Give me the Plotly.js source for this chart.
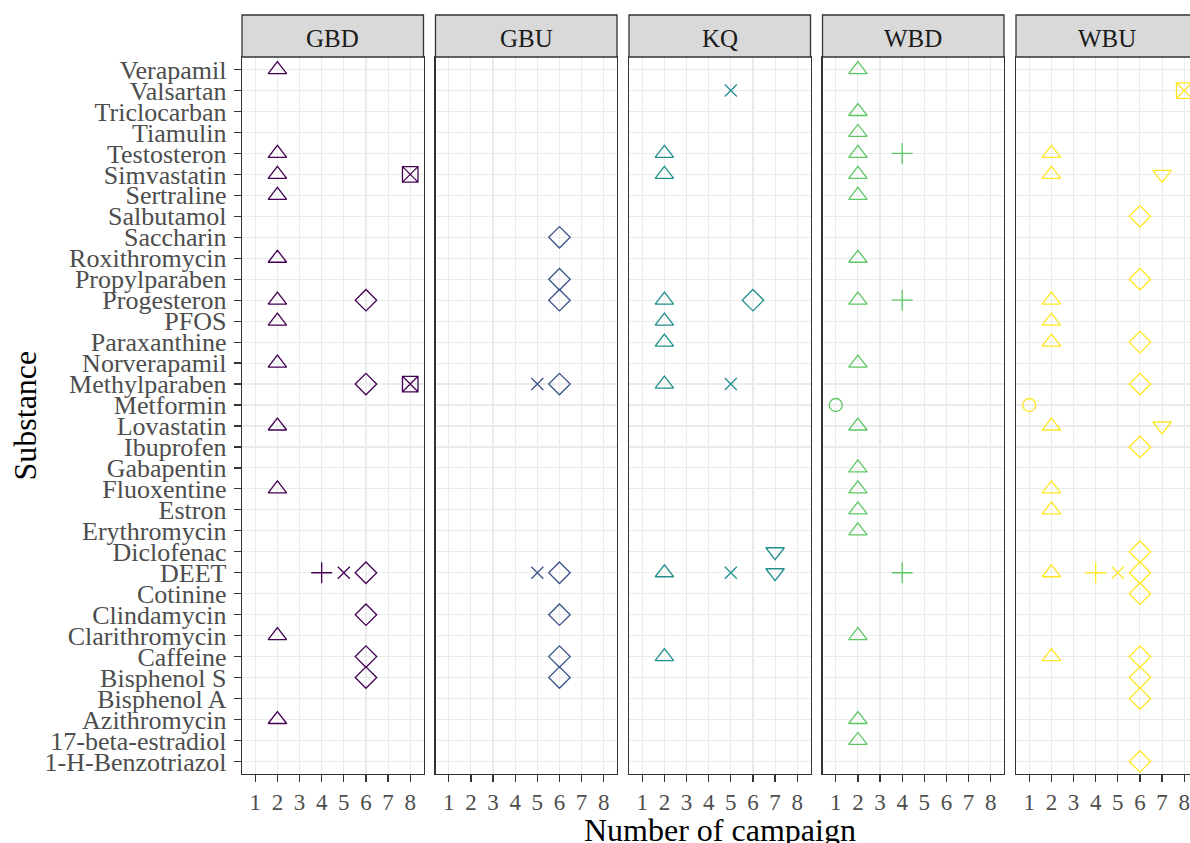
<!DOCTYPE html>
<html>
<head>
<meta charset="utf-8">
<script src="https://cdn.plot.ly/plotly-3.0.1.min.js"></script>
<style>
html, body { margin: 0; padding: 0; overflow: hidden; background: #ffffff; }
#chart { width: 1200px; height: 843px; }
</style>
</head>
<body>
<div id="chart"></div>
<script>
// Substances, top to bottom as shown
const substances = ["Verapamil","Valsartan","Triclocarban","Tiamulin","Testosteron","Simvastatin","Sertraline","Salbutamol","Saccharin","Roxithromycin","Propylparaben","Progesteron","PFOS","Paraxanthine","Norverapamil","Methylparaben","Metformin","Lovastatin","Ibuprofen","Gabapentin","Fluoxentine","Estron","Erythromycin","Diclofenac","DEET","Cotinine","Clindamycin","Clarithromycin","Caffeine","Bisphenol S","Bisphenol A","Azithromycin","17-beta-estradiol","1-H-Benzotriazol"];
const campaignTicks = [1,2,3,4,5,6,7,8];
const panels = ["GBD","GBU","KQ","WBD","WBU"];
const panelColors = ["#440154","#3B528B","#21908C","#5DC863","#FDE725"];

// Detections: substance and campaign, per site
const GBD_substance = ["Verapamil","Testosteron","Simvastatin","Simvastatin","Sertraline","Roxithromycin","Progesteron","Progesteron","PFOS","Norverapamil","Methylparaben","Methylparaben","Lovastatin","Fluoxentine","DEET","DEET","DEET","Clindamycin","Clarithromycin","Caffeine","Bisphenol S","Azithromycin"];
const GBD_campaign  = [2,2,2,8,2,2,2,6,2,2,6,8,2,2,4,5,6,6,2,6,6,2];

const GBU_substance = ["Saccharin","Propylparaben","Progesteron","Methylparaben","Methylparaben","DEET","DEET","Clindamycin","Caffeine","Bisphenol S"];
const GBU_campaign  = [6,6,6,5,6,5,6,6,6,6];

const KQ_substance = ["Valsartan","Testosteron","Simvastatin","Progesteron","Progesteron","PFOS","Paraxanthine","Methylparaben","Methylparaben","Diclofenac","DEET","DEET","DEET","Caffeine"];
const KQ_campaign  = [5,2,2,2,6,2,2,2,5,7,2,5,7,2];

const WBD_substance = ["Verapamil","Triclocarban","Tiamulin","Testosteron","Testosteron","Simvastatin","Sertraline","Roxithromycin","Progesteron","Progesteron","Norverapamil","Metformin","Lovastatin","Gabapentin","Fluoxentine","Estron","Erythromycin","DEET","Clarithromycin","Azithromycin","17-beta-estradiol"];
const WBD_campaign  = [2,2,2,2,4,2,2,2,2,4,2,1,2,2,2,2,2,4,2,2,2];

const WBU_substance = ["Valsartan","Testosteron","Simvastatin","Simvastatin","Salbutamol","Propylparaben","Progesteron","PFOS","Paraxanthine","Paraxanthine","Methylparaben","Metformin","Lovastatin","Lovastatin","Ibuprofen","Fluoxentine","Estron","Diclofenac","DEET","DEET","DEET","DEET","Cotinine","Caffeine","Caffeine","Bisphenol S","Bisphenol A","1-H-Benzotriazol"];
const WBU_campaign  = [8,2,2,7,6,6,2,2,2,6,6,1,2,7,6,2,2,6,2,4,5,6,6,2,6,6,6,6];

const panelData = [
  [GBD_substance, GBD_campaign],
  [GBU_substance, GBU_campaign],
  [KQ_substance, KQ_campaign],
  [WBD_substance, WBD_campaign],
  [WBU_substance, WBU_campaign]
];

// Shape per campaign (styling)
const symbolFor = {1:"circle-open",2:"triangle-up-open",3:"cross-thin-open",4:"cross-thin-open",5:"x-thin-open",6:"diamond-open",7:"triangle-down-open",8:"square-x-open"};
const sizeFor = {1:13,2:16,3:15,4:15,5:12,6:16.5,7:16,8:15.5};

const W = 1200, H = 843;
const serif = "Liberation Serif, Times New Roman, serif";
const catOrder = substances.slice().reverse(); // bottom to top

const traces = [];
const layout = {
  width: W, height: H,
  margin: {l:0, r:0, t:0, b:0},
  paper_bgcolor: "#ffffff",
  plot_bgcolor: "#ffffff",
  showlegend: false,
  shapes: [],
  annotations: []
};

const panelTop = 57, panelBottom = 774, stripTop = 15;
const yDom = [1 - panelBottom / H, 1 - panelTop / H];

panels.forEach((p, i) => {
  const left = 242 + i * 193.5;
  const right = left + 181.5;
  const xName = i === 0 ? "xaxis" : "xaxis" + (i + 1);
  const yName = i === 0 ? "yaxis" : "yaxis" + (i + 1);
  const xRef = i === 0 ? "x" : "x" + (i + 1);
  const yRef = i === 0 ? "y" : "y" + (i + 1);

  layout[xName] = {
    domain: [left / W, Math.min(right / W, 1)],
    anchor: yRef,
    range: [0.4, 8.6],
    tickmode: "array",
    tickvals: campaignTicks,
    ticktext: campaignTicks.map(String),
    ticks: "outside", ticklen: 7, tickwidth: 1.2, tickcolor: "#333333",
    showgrid: true, gridcolor: "#EBEBEB", gridwidth: 1.1,
    zeroline: false,
    showline: true, mirror: true, linecolor: "#333333", linewidth: 1.3,
    tickfont: {family: serif, size: 23, color: "#4D4D4D"},
    fixedrange: true
  };
  layout[yName] = {
    domain: yDom,
    anchor: xRef,
    type: "category",
    categoryorder: "array",
    categoryarray: catOrder,
    tickmode: "array",
    tickvals: catOrder,
    ticktext: catOrder,
    range: [-0.6, substances.length - 0.4],
    showgrid: true, gridcolor: "#EBEBEB", gridwidth: 1.1,
    zeroline: false,
    showline: true, mirror: true, linecolor: "#333333", linewidth: 1.3,
    showticklabels: i === 0,
    ticks: i === 0 ? "outside" : "",
    ticklen: 7, tickwidth: 1.2, tickcolor: "#333333",
    tickfont: {family: serif, size: 26, color: "#4D4D4D"},
    ticklabelstandoff: 2,
    fixedrange: true
  };
  if (i > 0) layout[yName].matches = "y";

  // strip
  layout.shapes.push({
    type: "rect", xref: "paper", yref: "paper",
    x0: left / W, x1: right / W,
    y0: 1 - panelTop / H, y1: 1 - stripTop / H,
    fillcolor: "#D9D9D9", line: {color: "#333333", width: 1.3}, layer: "above"
  });
  layout.annotations.push({
    text: p, xref: "paper", yref: "paper",
    x: (left + right) / 2 / W, y: 1 - 38.5 / H,
    xanchor: "center", yanchor: "middle", showarrow: false,
    font: {family: serif, size: 25, color: "#1A1A1A"}
  });

  // points grouped by campaign
  const [subs, camps] = panelData[i];
  const uniq = [...new Set(camps)].sort((a, b) => a - b);
  uniq.forEach(c => {
    const ys = [], xs = [];
    camps.forEach((v, k) => { if (v === c) { xs.push(v); ys.push(subs[k]); } });
    traces.push({
      type: "scatter", mode: "markers",
      x: xs, y: ys,
      xaxis: xRef, yaxis: yRef,
      cliponaxis: false,
      marker: {
        symbol: symbolFor[c], size: sizeFor[c],
        color: panelColors[i],
        line: {color: panelColors[i], width: 1.3}
      },
      hoverinfo: "x+y"
    });
  });
});

// axis titles
layout.annotations.push({
  text: "Number of campaign", xref: "paper", yref: "paper",
  x: (242 + 1197.5) / 2 / W, y: 1 - 830 / H,
  xanchor: "center", yanchor: "middle", showarrow: false,
  font: {family: serif, size: 32, color: "#000000"}
});
layout.annotations.push({
  text: "Substance", xref: "paper", yref: "paper",
  x: 24 / W, y: 1 - 415.5 / H, textangle: -90,
  xanchor: "center", yanchor: "middle", showarrow: false,
  font: {family: serif, size: 32, color: "#000000"}
});

Plotly.newPlot("chart", traces, layout, {displayModeBar: false, staticPlot: true});
</script>
</body>
</html>
